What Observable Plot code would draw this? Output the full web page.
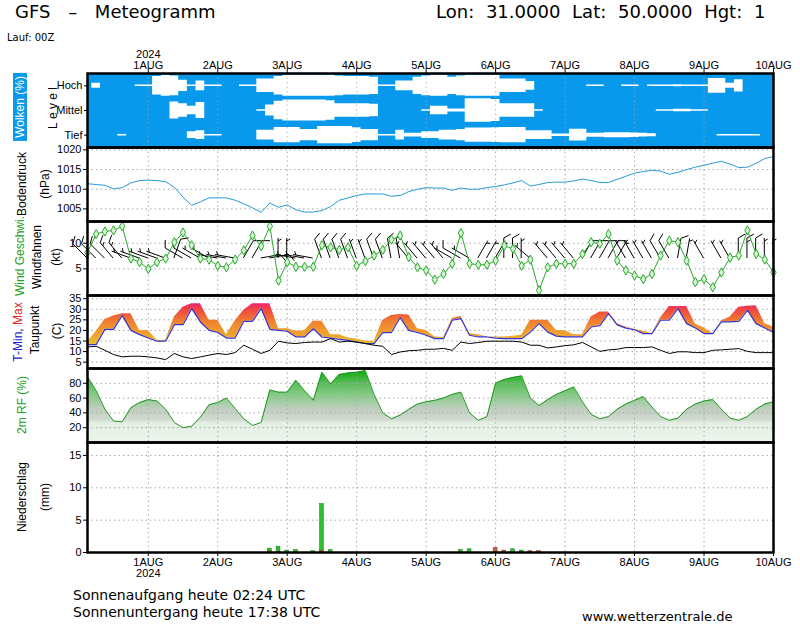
<!DOCTYPE html>
<html><head><meta charset="utf-8">
<script src="https://cdn.jsdelivr.net/npm/d3@7"></script>
<script src="https://cdn.jsdelivr.net/npm/@observablehq/plot@0.6"></script>
<style>
body{margin:0;background:#fff;}
#wrap{position:relative;width:800px;height:625px;overflow:hidden;background:#fff;}
.vlab{position:absolute;transform:translate(-50%,-50%) rotate(-90deg);white-space:nowrap;font-family:"Liberation Sans",Arial,sans-serif;font-size:12px;color:#000;line-height:1;}
.txt{position:absolute;white-space:nowrap;font-family:"DejaVu Sans",sans-serif;color:#000;line-height:1;}
</style></head><body><div id="wrap"></div>
<script>
// ---------- data (3-hourly, from 31 JUL 03Z to 10 AUG 00Z) ----------
const runStart = Date.UTC(2024, 6, 31, 3);
const stepHours = 3;
const monthLabel = "AUG";
const yearLabel = "2024";

const cloudHigh = [0,20,0,0,0,0,6,6,75,85, 80,45,6,40,6,6,0,0,6,6, 55,55,75,85,85,85,85,85,85,80, 75,75,75,70,6,6,40,40,70,80, 85,85,70,80,85,85,85,85,55,55, 55,35,0,0,0,0,0,0,6,6, 0,0,6,6,0,6,6,6,8,6, 6,6,60,60,20,50,0,0,0,0];
const cloudMid  = [0,0,0,0,0,0,0,0,0,0, 68,55,35,65,0,0,0,0,0,0, 6,45,75,85,85,85,85,85,80,55, 55,55,55,50,0,0,0,0,0,6, 34,34,12,12,95,95,95,90,55,55, 55,55,6,0,0,0,0,0,0,0, 0,0,0,0,0,0,6,6,10,10, 6,6,0,0,0,0,0,0,0,0];
const cloudLow  = [0,0,0,0,6,0,0,0,0,0, 0,0,27,35,6,6,0,0,0,0, 40,40,62,62,62,46,46,70,70,70, 70,60,46,46,6,6,40,15,15,27, 27,40,40,45,58,58,58,60,62,62, 62,35,35,35,10,10,47,47,16,16, 20,20,20,18,15,12,0,0,0,0, 0,0,0,6,6,6,6,6,0,0];

const pressure = [1011.4,1011.2,1011.0,1010.1,1010.4,1011.6,1012.2,1012.3,1012.2,1011.9,
  1010.5,1008.0,1005.9,1006.8,1007.8,1007.8,1007.8,1007.2,1006.3,1005.3,
  1004.1,1006.5,1005.4,1006.0,1004.8,1004.2,1004.2,1004.6,1005.6,1007.2,
  1007.8,1008.4,1008.8,1008.8,1008.8,1008.2,1008.4,1009.4,1010.0,1010.4,
  1010.3,1010.3,1009.7,1010.3,1010.0,1010.0,1010.4,1010.7,1011.1,1011.6,
  1012.2,1010.8,1011.2,1011.7,1011.8,1011.8,1012.1,1012.6,1012.2,1011.7,
  1011.7,1012.5,1013.3,1014.1,1014.5,1014.8,1014.6,1013.8,1014.3,1015.0,
  1015.6,1016.1,1016.6,1017.1,1016.4,1015.5,1015.6,1016.6,1017.8,1018.3];

const windSpeed = [8.2,11.8,12.3,12.5,13.3,7.0,6.3,5.0,6.3,7.0,
  10.2,12.1,9.6,7.0,6.8,5.6,5.3,6.8,8.6,11.5,
  9.4,13.3,2.7,6.3,5.4,5.4,5.4,9.6,9.2,8.7,
  9.2,5.6,6.5,7.6,8.7,10.7,11.5,7.3,5.3,4.7,
  2.9,4.0,6.0,12.0,6.0,5.8,5.8,6.6,9.5,8.9,
  5.6,6.8,0.8,5.3,6.0,6.0,6.0,7.9,10.2,9.9,
  11.8,6.6,4.7,3.7,3.0,4.0,7.6,10.5,10.2,6.6,
  2.4,3.0,1.4,4.3,7.2,7.6,12.5,7.9,6.8,4.3];

const windDir = [315,315,315,320,320,290,290,290,290,290,
  20,300,300,300,300,280,280,280,30,30,
  80,80,0,0,280,280,280,340,340,340,
  340,340,340,340,340,350,350,320,320,320,
  320,320,300,300,300,30,30,30,0,0,
  0,310,310,320,320,320,320,30,30,30,
  30,30,330,330,330,330,330,330,10,10,
  10,330,330,330,330,0,0,0,0,0];

const tempBase = [13.3,13.3,20.5,20.5,27.1,20.0,18.0,16.4,14.9,14.9,
  22.7,22.7,30.3,24.0,20.0,19.0,16.4,16.4,24.3,24.3,
  30.3,20.5,20.0,19.6,16.9,16.9,20.8,16.9,16.4,15.8,
  15.3,14.5,13.8,13.8,19.0,19.0,26.0,20.0,19.0,17.7,
  16.1,16.1,24.8,25.6,17.7,16.9,16.9,16.4,16.1,16.1,
  16.1,19.2,23.2,19.2,17.3,16.9,16.9,16.9,21.6,22.3,
  27.9,22.6,21.1,20.3,18.5,18.5,24.8,24.8,30.3,23.2,
  21.1,18.5,18.5,24.0,24.0,24.3,29.5,23.2,21.1,19.0];

const tempMax = [14.5,19.5,25.2,26.8,27.9,27.9,20.0,20.0,15.3,15.3,
  26.3,31.0,32.6,32.6,24.8,24.8,18.0,24.5,29.5,32.6,
  32.6,32.6,20.8,20.8,19.6,19.8,24.3,24.3,18.0,18.0,
  16.4,16.0,15.0,14.8,24.8,27.1,27.5,27.3,20.8,20.0,
  17.0,16.5,25.6,26.6,18.5,18.0,16.9,16.9,16.9,17.2,
  17.7,24.8,24.8,24.8,20.0,19.8,18.0,18.0,26.3,28.7,
  28.7,23.2,21.6,20.5,19.6,18.5,26.0,31.3,31.3,31.3,
  23.0,21.1,18.5,24.5,26.3,31.0,31.4,31.6,23.2,21.6];

const dewPoint = [12.2,12.5,10.6,8.6,7.5,7.8,7.8,7.5,7.0,6.2,
  9.1,7.5,6.7,7.5,8.3,9.1,8.6,9.5,13.0,11.1,
  9.1,10.6,14.9,14.1,13.8,14.3,14.5,14.5,16.1,14.5,
  14.9,14.5,13.8,13.0,12.5,8.6,9.8,10.4,10.6,11.1,
  11.1,11.5,10.6,14.5,13.8,14.3,14.9,14.9,14.9,14.9,
  14.5,13.0,13.0,11.7,12.2,12.8,13.2,14.3,12.2,10.1,
  10.8,11.1,11.9,11.9,11.9,12.2,10.6,9.1,9.9,9.9,
  9.5,9.5,10.6,10.8,11.1,11.4,10.1,9.5,9.5,9.5];

const relHum = [89,70,45,29,28,47,54,58,56,45,
  27,20,22,34,51,54,60,46,32,23,
  27,71,68,68,84,70,57,95,79,92,
  94,95,97,65,40,32,37,45,52,55,
  57,60,65,68,40,30,35,80,85,88,
  90,60,50,58,65,70,75,55,38,32,
  35,45,52,57,62,48,35,30,33,45,
  52,56,58,45,33,30,35,45,52,55];

const precipStep = [21,22,23,24,26,27,28,43,44,47,48,49,50,51,52];
const precipRain = [0.4,0.8,0.3,0.4,0.2,7.2,0.4,0.4,0.5,0.0,0.0,0.5,0.3,0.0,0.0];
const precipConv = [0.2,0.1,0.0,0.0,0.0,0.3,0.0,0.0,0.0,0.7,0.3,0.0,0.0,0.2,0.2];

const levelNames = ["Tief", "Mittel", "Hoch"];
const pressureTicks = [1005, 1010, 1015, 1020];
const windTicks = [5, 10];
const tempTicks = [5, 10, 15, 20, 25, 30, 35];
const rhTicks = [20, 40, 60, 80];
const precipTicks = [0, 5, 10, 15];

// ---------- derived tables ----------
const times = d3.range(pressure.length).map(i => new Date(runStart + i * stepHours * 3600e3));
const xDomain = [times[0], new Date(Date.UTC(2024, 7, 10, 0))];
const dayTicks = d3.utcDay.range(new Date(Date.UTC(2024, 7, 1)), new Date(Date.UTC(2024, 7, 10, 1)));
const rows = times.map((t, i) => ({t, p: pressure[i], ws: windSpeed[i], wd: windDir[i],
  tb: tempBase[i], tx: tempMax[i], td: dewPoint[i], rh: relHum[i]}));
const cloudRows = [[cloudLow, 0.5, "Tief"], [cloudMid, 1.5, "Mittel"], [cloudHigh, 2.5, "Hoch"]]
  .flatMap(([arr, c, name]) => arr.map((v, i) => ({t: times[i], level: name, y1: c - v / 200, y2: c + v / 200})));
const precipRows = precipStep.map((s, k) => ({t: times[s], rain: precipRain[k], conv: precipConv[k]}));

// ---------- styling ----------
const FONT = '"Liberation Sans", Arial, sans-serif';
const SKY = "#0899ec";
const GRID = {stroke: "#a8a8a8", strokeDasharray: "1.5,3", strokeWidth: 1};
const wrap = document.getElementById("wrap");
const common = {width: 800, marginLeft: 87, marginRight: 27,
  style: {fontFamily: FONT, fontSize: "11px", background: "transparent", overflow: "visible"}};
const dayFmt = d => d.getUTCDate() + monthLabel;
const numFmt = d => String(d);

function place(el, top) {
  el.style.position = "absolute"; el.style.left = "0px"; el.style.top = top + "px";
  wrap.appendChild(el);
}
function gradientDefs(id, stops) {
  return (index, scales) => {
    const y = scales.y;
    const vals = stops.map(s => s[0]);
    const lo = d3.min(vals), hi = d3.max(vals);
    const defs = d3.create("svg:defs");
    const g = defs.append("linearGradient").attr("id", id).attr("gradientUnits", "userSpaceOnUse")
      .attr("x1", 0).attr("x2", 0).attr("y1", y(lo)).attr("y2", y(hi));
    for (const [v, c] of stops) g.append("stop").attr("offset", (v - lo) / (hi - lo)).attr("stop-color", c);
    return defs.node();
  };
}
function windBarbs(data) {
  return (index, scales, values, dim) => {
    const yc = (dim.marginTop + dim.height - dim.marginBottom) / 2;
    const g = d3.create("svg:g").attr("fill", "none").attr("stroke", "#000").attr("stroke-width", 1);
    const L = 20, F = 8;
    for (const d of data) {
      const kt = Math.round(d.ws / 5) * 5;
      if (kt === 0) continue;
      const a = d.wd * Math.PI / 180;
      const ux = Math.sin(a), uy = -Math.cos(a);
      const x0 = scales.x(d.t), y0 = yc;
      const x1 = x0 + ux * L, y1 = y0 + uy * L;
      const fa = Math.PI / 3;
      const fx = Math.cos(fa) * ux - Math.sin(fa) * uy, fy = Math.sin(fa) * ux + Math.cos(fa) * uy;
      let p = `M${x0},${y0}L${x1},${y1}`;
      let n10 = Math.floor(kt / 10), n5 = kt % 10 >= 5 ? 1 : 0, pos = 0;
      for (let k = 0; k < n10; k++, pos += 4) {
        const bx = x1 - ux * pos, by = y1 - uy * pos;
        p += `M${bx},${by}l${fx * F},${fy * F}`;
      }
      if (n5) {
        if (n10 === 0) pos = 3;
        const bx = x1 - ux * pos, by = y1 - uy * pos;
        p += `M${bx},${by}l${fx * F / 2},${fy * F / 2}`;
      }
      g.append("path").attr("d", p);
    }
    return g.node();
  };
}

// ---------- panel 1: clouds ----------
place(Plot.plot({
  ...common, height: 107, marginTop: 33, marginBottom: 0,
  x: {type: "utc", domain: xDomain, axis: "top", ticks: dayTicks,
      tickFormat: d => d.getUTCDate() === 1 ? yearLabel + "\n" + dayFmt(d) : dayFmt(d),
      tickSize: 6, tickPadding: -1, label: null},
  y: {domain: [0, 3], ticks: [0.5, 1.5, 2.5], tickFormat: v => levelNames[Math.floor(v)], tickSize: 3, tickPadding: 2, label: null},
  marks: [
    Plot.frame({fill: SKY, stroke: "none"}),
    Plot.areaY(cloudRows, {x: "t", y1: "y1", y2: "y2", z: "level", fill: "white", curve: "step"}),
    Plot.ruleX(dayTicks, {...GRID, strokeOpacity: 0.7}),
    Plot.frame({stroke: "#000", strokeWidth: 2.5})
  ]
}), 40);

// ---------- panel 2: pressure ----------
place(Plot.plot({
  ...common, height: 74, marginTop: 0, marginBottom: 0,
  x: {type: "utc", domain: xDomain, axis: null},
  y: {domain: [1001.8, 1020.6], ticks: pressureTicks, tickFormat: numFmt, tickSize: 4, tickPadding: 2, label: null},
  marks: [
    Plot.ruleY(pressureTicks, GRID),
    Plot.ruleX(dayTicks, GRID),
    Plot.lineY(rows, {x: "t", y: "p", stroke: "#2a9ad6", strokeWidth: 1}),
    Plot.frame({stroke: "#000", strokeWidth: 2.5})
  ]
}), 147);

// ---------- panel 3: wind ----------
place(Plot.plot({
  ...common, height: 74, marginTop: 0, marginBottom: 0,
  x: {type: "utc", domain: xDomain, axis: null},
  y: {domain: [-0.2, 14.24], ticks: windTicks, tickFormat: numFmt, tickSize: 4, tickPadding: 2, label: null},
  marks: [
    Plot.ruleY([5, 10], GRID),
    Plot.ruleX(dayTicks, GRID),
    windBarbs(rows),
    Plot.lineY(rows, {x: "t", y: "ws", stroke: "#2aa82a", strokeWidth: 1}),
    Plot.dot(rows, {x: "t", y: "ws", symbol: "diamond", r: 2.8, stroke: "#2aa82a", fill: "#d4f4d4", strokeWidth: 1}),
    Plot.frame({stroke: "#000", strokeWidth: 2.5})
  ]
}), 221);

// ---------- panel 4: temperature ----------
place(Plot.plot({
  ...common, height: 73, marginTop: 0, marginBottom: 0,
  x: {type: "utc", domain: xDomain, axis: null},
  y: {domain: [2.0, 36.5], ticks: tempTicks, tickFormat: numFmt, tickSize: 4, tickPadding: 2, label: null},
  marks: [
    gradientDefs("tgrad", [[12, "#e4c428"], [16, "#ebae2c"], [20, "#f0982e"], [24, "#f08030"], [27, "#f06038"], [30, "#f04444"], [32, "#f0286a"], [34, "#e81888"]]),
    Plot.ruleY(tempTicks, GRID),
    Plot.ruleX(dayTicks, GRID),
    Plot.areaY(rows, {x: "t", y1: "tb", y2: "tx", fill: "url(#tgrad)"}),
    Plot.lineY(rows, {x: "t", y: "tb", stroke: "#3434d0", strokeWidth: 1.2}),
    Plot.lineY(rows, {x: "t", y: "td", stroke: "#000", strokeWidth: 1}),
    Plot.frame({stroke: "#000", strokeWidth: 2.5})
  ]
}), 295);

// ---------- panel 5: relative humidity ----------
place(Plot.plot({
  ...common, height: 74, marginTop: 0, marginBottom: 0,
  x: {type: "utc", domain: xDomain, axis: null},
  y: {domain: [0, 100], ticks: rhTicks, tickFormat: numFmt, tickSize: 4, tickPadding: 2, label: null},
  marks: [
    gradientDefs("rhgrad", [[0, "#ecf5ec"], [26, "#e4efe4"], [30, "#d2dbd2"], [45, "#c0ccc0"], [50, "#b0ceb0"], [62, "#8ccb8c"], [80, "#58bc58"], [90, "#28b228"], [100, "#00a400"]]),
    Plot.areaY(rows, {x: "t", y: "rh", fill: "url(#rhgrad)"}),
    Plot.ruleY(rhTicks, GRID),
    Plot.ruleX(dayTicks, GRID),
    Plot.lineY(rows, {x: "t", y: "rh", stroke: "#1f9a1f", strokeWidth: 1}),
    Plot.frame({stroke: "#000", strokeWidth: 2.5})
  ]
}), 368);

// ---------- panel 6: precipitation ----------
const half = 40 * 60e3;
place(Plot.plot({
  ...common, height: 142, marginTop: 0, marginBottom: 32,
  x: {type: "utc", domain: xDomain, axis: "bottom", ticks: dayTicks,
      tickFormat: d => d.getUTCDate() === 1 ? dayFmt(d) + "\n" + yearLabel : dayFmt(d),
      tickSize: 4, tickPadding: 2, label: null},
  y: {domain: [0, 17], ticks: precipTicks, tickFormat: numFmt, tickSize: 4, tickPadding: 2, label: null},
  marks: [
    Plot.ruleY([5, 10, 15], GRID),
    Plot.ruleX(dayTicks, GRID),
    Plot.rect(precipRows, {x1: d => new Date(+d.t - half), x2: d => new Date(+d.t + half), y1: 0, y2: "conv", fill: "#c0603a", stroke: "#7a4020", strokeWidth: 0.5}),
    Plot.rect(precipRows, {x1: d => new Date(+d.t - half), x2: d => new Date(+d.t + half), y1: "conv", y2: d => d.conv + d.rain, fill: "#2ec02e", stroke: "#1a7a1a", strokeWidth: 0.5}),
    Plot.frame({stroke: "#000", strokeWidth: 2.5})
  ]
}), 442);

// ---------- texts ----------
function vlab(html, x, y, extra = "") {
  const d = document.createElement("div");
  d.className = "vlab"; d.style.left = x + "px"; d.style.top = y + "px";
  d.style.cssText += extra; d.innerHTML = html; wrap.appendChild(d);
}
function txt(text, x, y, size, extra = "") {
  const d = document.createElement("div");
  d.className = "txt"; d.style.left = x + "px"; d.style.top = y + "px"; d.style.fontSize = size + "px";
  d.style.cssText += extra; d.textContent = text; wrap.appendChild(d);
}
vlab("Wolken (%)", 19.5, 107, "background:" + SKY + ";color:#fff;padding:1px 3px;");
vlab("L&nbsp;e&nbsp;v&nbsp;e&nbsp;l", 53, 108);
vlab("Bodendruck", 22, 184);
vlab("(hPa)", 45, 184);
vlab('<span style="color:#22a022">Wind Geschwi.</span>', 20, 256);
vlab("Windfahnen", 37, 257);
vlab("(kt)", 56, 257);
vlab('<span style="color:#2222cc">T-Min,</span> <span style="color:#e02020">Max</span>', 18, 332);
vlab("Taupunkt", 35, 330);
vlab("(C)", 57, 331);
vlab('<span style="color:#22a022">2m RF (%)</span>', 22, 405);
vlab("Niederschlag", 22, 497);
vlab("(mm)", 45, 497);

txt("GFS – Meteogramm", 15, 3, 18, "word-spacing:12px;");
txt("Lon: 31.0000 Lat: 50.0000 Hgt: 1", 436, 3, 18, "word-spacing:6px;");
txt("Lauf: 00Z", 7, 33, 10);
txt("Sonnenaufgang heute 02:24 UTC", 73, 588, 14);
txt("Sonnenuntergang heute 17:38 UTC", 73, 605, 14);
txt("www.wetterzentrale.de", 582, 610, 13);
</script></body></html>
